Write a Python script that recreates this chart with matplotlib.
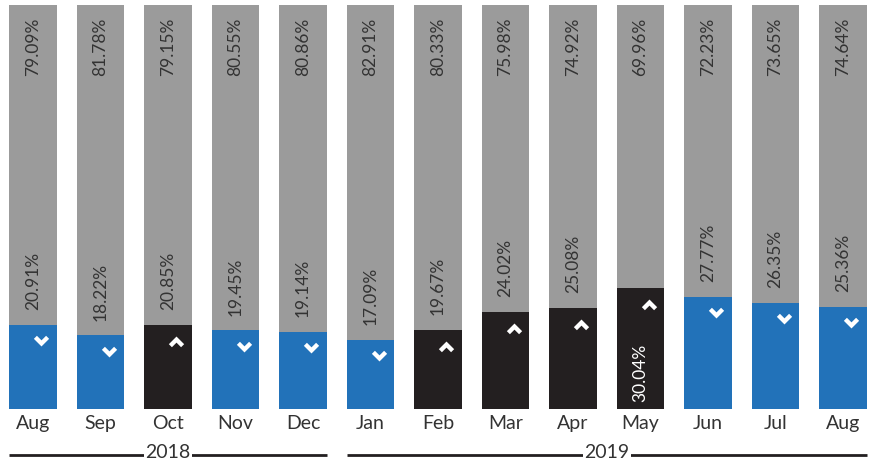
import matplotlib
matplotlib.use('Agg')
import matplotlib.pyplot as plt
import matplotlib.transforms as mtransforms
from matplotlib.path import Path
import numpy as np

months = ['Aug', 'Sep', 'Oct', 'Nov', 'Dec', 'Jan', 'Feb', 'Mar', 'Apr', 'May', 'Jun', 'Jul', 'Aug']
share_low = [20.91, 18.22, 20.85, 19.45, 19.14, 17.09, 19.67, 24.02, 25.08, 30.04, 27.77, 26.35, 25.36]
share_high = [79.09, 81.78, 79.15, 80.55, 80.86, 82.91, 80.33, 75.98, 74.92, 69.96, 72.23, 73.65, 74.64]
trend = ['down', 'down', 'up', 'down', 'down', 'down', 'up', 'up', 'up', 'up', 'down', 'down', 'down']
years = ['2018', '2019']
year_spans = [(0, 4), (5, 12)]

BLUE = '#2272b9'
BLACK = '#231f20'
GRAY = '#9b9b9b'
TXT = '#333333'

plt.rcParams['font.family'] = ['Lato', 'DejaVu Sans']

fig = plt.figure(figsize=(8.73, 4.62), dpi=100)
ax = fig.add_axes([0, 53/462, 1, 404/462])

x = np.arange(len(months))
w = 0.711
low_colors = [BLUE if t == 'down' else BLACK for t in trend]
ax.bar(x, share_low, width=w, color=low_colors, linewidth=0)
ax.bar(x, share_high, width=w, bottom=share_low, color=GRAY, linewidth=0)

# percentage labels
for i in range(len(months)):
    ax.text(x[i], 96.8, '%.2f%%' % share_high[i], rotation=90, ha='center', va='top',
            fontsize=12.5, color=TXT)
    if share_low[i] >= 30:
        ax.text(x[i], 1.8, '%.2f%%' % share_low[i], rotation=90, ha='center', va='bottom',
                fontsize=12.5, color='white')
    else:
        ax.text(x[i], share_low[i] + 3.6, '%.2f%%' % share_low[i], rotation=90, ha='center',
                va='bottom', fontsize=12.5, color=TXT)

# chevrons
down_v = [(-1, 0.35), (0, -0.65), (1, 0.35), (0.6, 0.75), (0, 0.15), (-0.6, 0.75), (-1, 0.35)]
down_marker = Path(down_v, closed=True)
up_marker = Path([(a, -b) for a, b in down_v], closed=True)
for i in range(len(months)):
    m = down_marker if trend[i] == 'down' else up_marker
    ax.plot(x[i] + 0.12, share_low[i] - 4.0, marker=m, markersize=11, color='white',
            markeredgewidth=0, linestyle='none')

ax.set_xlim(-0.3555 - 9/67.5, 12.3555 + 6/67.5)
ax.set_ylim(0, 100)
ax.set_xticks(x)
ax.set_xticklabels(months, fontsize=14, color=TXT)
ax.tick_params(axis='x', length=0, pad=4)
ax.set_yticks([])
for s in ax.spines.values():
    s.set_visible(False)

# year brackets
trans = mtransforms.blended_transform_factory(ax.transData, ax.transAxes)
for yr, (a, b) in zip(years, year_spans):
    ax.plot([a - w/2, b + w/2], [-0.114, -0.114], color=BLACK, linewidth=2,
            transform=trans, clip_on=False, solid_capstyle='butt')
    ax.text((a + b) / 2, -0.107, yr, ha='center', va='center', fontsize=14, color=TXT,
            transform=trans, bbox=dict(facecolor='white', edgecolor='none', pad=1.0))

fig.savefig('out.png', dpi=100)
